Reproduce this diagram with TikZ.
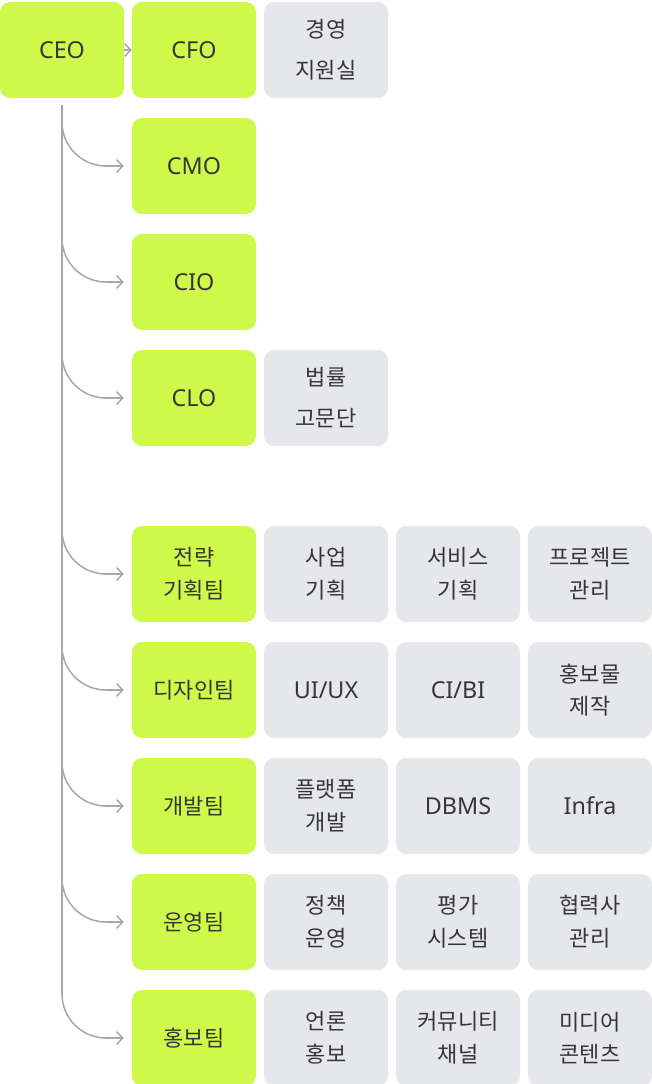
\documentclass[tikz,border=0pt]{standalone}
\usepackage{fontspec}
\setmainfont{Noto Sans}
\newfontfamily\kr{Noto Sans CJK KR}
\usetikzlibrary{arrows.meta}
\definecolor{boxgreen}{HTML}{CFF94A}
\definecolor{boxgray}{HTML}{E6E7EB}
\definecolor{linegray}{HTML}{A8A8A8}
\definecolor{txt}{HTML}{363636}
\begin{document}
\begin{tikzpicture}[x=0.75pt,y=-0.75pt,
  box/.style={rectangle,rounded corners=7.5pt,minimum width=93pt,minimum height=72pt,inner sep=0pt,
    align=center,text=txt,font=\fontsize{17.5}{24.5}\selectfont},
  grn/.style={box,fill=boxgreen},
  gry/.style={box,fill=boxgray},
  ko/.style={font=\kr\fontsize{16.5}{24.5}\selectfont},
  kowide/.style={font=\kr\fontsize{16.5}{30.75}\selectfont},
  conn/.style={draw=linegray,line width=1.15pt,-{Straight Barb[length=4.5pt,width=9.5pt]}},
  branch/.style={conn,rounded corners=33pt,shorten <=5.25pt,shorten >=6pt}]
\useasboundingbox (0,0) rectangle (652,1084);
\clip (0,0) rectangle (652,1084);
% row 1
\node[grn] (ceo) at (62,50) {CEO};
\node[grn] (cfo) at (194,50) {CFO};
\node[gry,kowide] (gy) at (326,50) {경영\\지원실};
% row 2-4
\node[grn] (cmo) at (194,166) {CMO};
\node[grn] (cio) at (194,282) {CIO};
\node[grn] (clo) at (194,398) {CLO};
\node[gry,kowide] (br) at (326,398) {법률\\고문단};
% row 5
\node[grn,ko] (jr) at (194,574) {전략\\기획팀};
\node[gry,ko] (sa) at (326,574) {사업\\기획};
\node[gry,ko] (sb) at (458,574) {서비스\\기획};
\node[gry,ko] (pj) at (590,574) {프로젝트\\관리};
% row 6
\node[grn,ko] (di) at (194,690) {디자인팀};
\node[gry] (ux) at (326,690) {UI/UX};
\node[gry] (ci) at (458,690) {CI/BI};
\node[gry,ko] (hb) at (590,690) {홍보물\\제작};
% row 7
\node[grn,ko] (gb) at (194,806) {개발팀};
\node[gry,ko] (pf) at (326,806) {플랫폼\\개발};
\node[gry] (db) at (458,806) {DBMS};
\node[gry] (inf) at (590,806) {Infra};
% row 8
\node[grn,ko] (uy) at (194,922) {운영팀};
\node[gry,ko] (jc) at (326,922) {정책\\운영};
\node[gry,ko] (pg) at (458,922) {평가\\시스템};
\node[gry,ko] (hr) at (590,922) {협력사\\관리};
% row 9
\node[grn,ko] (hbt) at (194,1038) {홍보팀};
\node[gry,ko] (ur) at (326,1038) {언론\\홍보};
\node[gry,ko] (cm) at (458,1038) {커뮤니티\\채널};
\node[gry,ko] (md) at (590,1038) {미디어\\콘텐츠};
% connectors
\draw[conn] (ceo.east) -- (cfo.west);
\foreach \t in {cmo,cio,clo,jr,di,gb,uy,hbt}{
  \draw[branch] (ceo.south) |- (\t.west);
}
\end{tikzpicture}
\end{document}
